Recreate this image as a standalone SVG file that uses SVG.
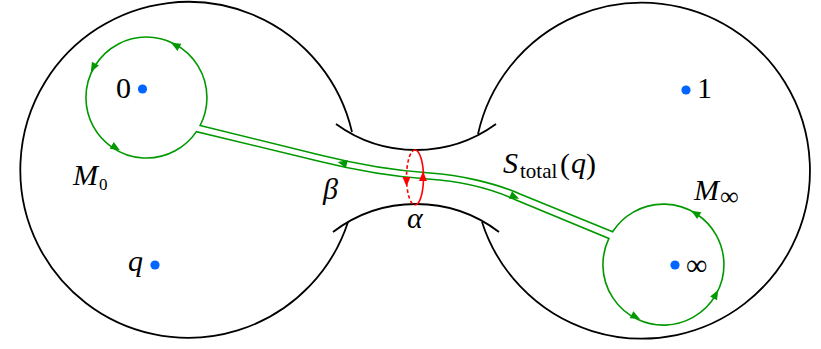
<svg xmlns="http://www.w3.org/2000/svg" width="821" height="349" viewBox="0 0 821 349">
<style>
.sphere{fill:none;stroke:#000;stroke-width:1.8}
.green{fill:none;stroke:#009900;stroke-width:1.6;stroke-linejoin:miter}
.red{fill:none;stroke:#ff0000;stroke-width:1.6}
.dash{stroke-dasharray:3.5 2.5}
.dot{fill:#0066ff}
.t{font-family:"Liberation Serif","DejaVu Serif",serif;font-size:30px;fill:#000}
.i{font-style:italic}
.n{font-style:normal}
</style>
<defs>
<polygon id="ahg" points="4.5,0 -5,-4 -5,4" fill="#009900"/>
<polygon id="ahr" points="4.5,0 -5,-4 -5,4" fill="#ff0000"/>
</defs>
<g id="left-sphere">
<path class="sphere" d="M 352 132 A 168 168 0 1 0 348 222"/>
</g>
<g id="right-sphere">
<path class="sphere" d="M 478 134 A 168 168 0 1 1 482 222"/>
</g>
<g id="neck">
<path class="sphere" d="M 336 124 A 136 136 0 0 0 496 124"/>
<path class="sphere" d="M 333 232 A 137 137 0 0 1 499 232"/>
</g>
<g id="connectors">
<path class="green" d="M 200.1 125.5 A 60.5 60.5 0 1 0 196.45 131.6 L 318 161 C 358 171, 398 177, 428 179 C 458 181, 488 187, 516 200 L 608.9 238.4 A 60.5 60.5 0 1 0 612.6 231.8 L 520 194 C 495 183, 460 175, 430 173 C 400 171, 360 165, 320 155 Z"/>
<use href="#ahg" transform="translate(175,45) rotate(-151.5)"/>
<use href="#ahg" transform="translate(93,68) rotate(119)"/>
<use href="#ahg" transform="translate(116,148) rotate(31)"/>
<use href="#ahg" transform="translate(695,213) rotate(-148.5)"/>
<use href="#ahg" transform="translate(716,294) rotate(-60.7)"/>
<use href="#ahg" transform="translate(636,317) rotate(27.6)"/>
<use href="#ahg" transform="translate(342,163) rotate(-166)"/>
<use href="#ahg" transform="translate(515,197) rotate(23)"/>
</g>
<g id="alpha-cycle">
<path class="red" d="M 415 150 A 8.5 27.5 0 0 1 415 205"/>
<path class="red dash" d="M 415 150 A 8.5 27.5 0 0 0 415 205"/>
<use href="#ahr" transform="translate(423,176) rotate(-90)"/>
<use href="#ahr" transform="translate(406.5,182) rotate(90)"/>
</g>
<g id="point-0">
<circle class="dot" cx="142.5" cy="89" r="4.6"/>
<text class="t" x="131" y="98" text-anchor="end">0</text>
</g>
<g id="point-1">
<circle class="dot" cx="686" cy="90" r="4.6"/>
<text class="t" x="697" y="98">1</text>
</g>
<g id="point-q">
<circle class="dot" cx="155" cy="265" r="4.6"/>
<text class="t i" x="128" y="271">q</text>
</g>
<g id="point-inf">
<circle class="dot" cx="675" cy="265" r="4.6"/>
<text class="t" x="686" y="275" font-size="38">∞</text>
</g>
<g id="label-M0">
<text class="t i" y="185"><tspan x="73">M</tspan><tspan class="n" x="99" y="190" font-size="17">0</tspan></text>
</g>
<g id="label-beta">
<text class="t i" x="323" y="199">β</text>
</g>
<g id="label-alpha">
<text class="t i" x="407" y="228">α</text>
</g>
<g id="label-S">
<text class="t i" y="173"><tspan x="503">S</tspan><tspan class="n" x="520" y="178" font-size="21">total</tspan><tspan class="n" x="560" y="174">(</tspan><tspan x="571" y="173">q</tspan><tspan class="n" x="586" y="174">)</tspan></text>
</g>
<g id="label-Minf">
<text class="t i" y="200"><tspan x="694">M</tspan><tspan class="n" x="720" y="205" font-size="26">∞</tspan></text>
</g>
</svg>
